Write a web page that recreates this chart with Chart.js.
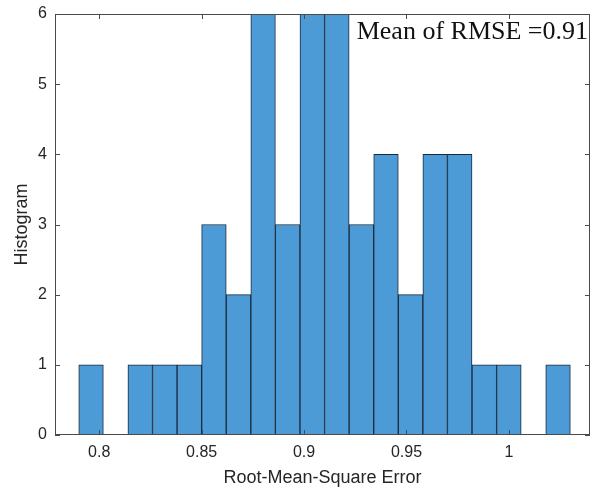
<!DOCTYPE html>
<html>
<head>
<meta charset="utf-8">
<script src="https://cdn.jsdelivr.net/npm/chart.js@4"></script>
<style>
  html, body { margin: 0; padding: 0; background: #ffffff; }
  #wrap { width: 592px; height: 487px; }
</style>
</head>
<body>
<div id="wrap"><canvas id="chartRmse" width="592" height="487"></canvas></div>
<script>
const binCenters = [0.796, 0.808, 0.820, 0.832, 0.844, 0.856, 0.868, 0.880, 0.892, 0.904,
                    0.916, 0.928, 0.940, 0.952, 0.964, 0.976, 0.988, 1.000, 1.012, 1.024];
const binCounts = [1, 0, 1, 1, 1, 3, 2, 6, 3, 6,
                   6, 3, 4, 2, 4, 4, 1, 1, 0, 1];
const xTickValues = [0.8, 0.85, 0.9, 0.95, 1];
const yTickValues = [0, 1, 2, 3, 4, 5, 6];
const meanLabel = 'Mean of RMSE =0.91';

const axisColor = '#4a4a4a';
const barColor = '#4d9bd6';

// Cadre + graduations vers l'intérieur (style MATLAB) + texte de la moyenne
const matlabBox = {
    id: 'matlabBox',
    afterDraw(chart) {
        const { ctx, chartArea: a, scales } = chart;
        const len = 5;
        ctx.save();
        ctx.strokeStyle = axisColor;
        ctx.lineWidth = 1;
        ctx.strokeRect(a.left + 0.5, a.top + 0.5, a.right - a.left - 1, a.bottom - a.top - 1);
        ctx.beginPath();
        xTickValues.forEach(v => {
            const x = Math.round(scales.x.getPixelForValue(v)) + 0.5;
            ctx.moveTo(x, a.bottom); ctx.lineTo(x, a.bottom - len);
            ctx.moveTo(x, a.top); ctx.lineTo(x, a.top + len);
        });
        yTickValues.forEach(v => {
            const y = Math.round(scales.y.getPixelForValue(v)) + 0.5;
            ctx.moveTo(a.left, y); ctx.lineTo(a.left + len, y);
            ctx.moveTo(a.right, y); ctx.lineTo(a.right - len, y);
        });
        ctx.stroke();

        ctx.fillStyle = '#111111';
        ctx.font = '26px "Liberation Serif"';
        ctx.textAlign = 'right';
        ctx.textBaseline = 'alphabetic';
        ctx.fillText(meanLabel, a.right - 2, a.top + 25);
        ctx.restore();
    }
};

const canvas = document.getElementById('chartRmse');

new Chart(canvas, {
    type: 'bar',
    data: {
        datasets: [{
            label: 'RMSE',
            data: binCenters.map((c, i) => ({ x: c, y: binCounts[i] })),
            backgroundColor: barColor,
            borderColor: '#1a2a3a',
            borderWidth: 1,
            barPercentage: 1,
            categoryPercentage: 1
        }]
    },
    options: {
        responsive: false,
        animation: false,
        layout: { padding: { top: 14, right: 2, left: 0, bottom: 0 } },
        plugins: {
            legend: { display: false },
            tooltip: { enabled: false }
        },
        scales: {
            x: {
                type: 'linear',
                offset: false,
                min: 0.7784,
                max: 1.0396,
                grid: { display: false, drawTicks: false, offset: false },
                border: { display: false },
                afterBuildTicks: axis => { axis.ticks = xTickValues.map(v => ({ value: v })); },
                afterFit: axis => {
                    axis.height = 52;
                    axis.paddingLeft = 0;
                    axis.paddingRight = 0;
                },
                ticks: {
                    padding: 8,
                    color: '#262626',
                    font: { family: 'Liberation Sans', size: 16 },
                    callback: v => String(v)
                },
                title: {
                    display: true,
                    text: 'Root-Mean-Square Error',
                    color: '#262626',
                    font: { family: 'Liberation Sans', size: 18, lineHeight: 1 },
                    padding: { top: 0, bottom: 0 }
                }
            },
            y: {
                min: 0,
                max: 6,
                grid: { display: false, drawTicks: false },
                border: { display: false },
                afterBuildTicks: axis => { axis.ticks = yTickValues.map(v => ({ value: v })); },
                afterFit: axis => {
                    axis.width = 55;
                    axis.paddingTop = 0;
                    axis.paddingBottom = 0;
                },
                ticks: {
                    padding: 8,
                    color: '#262626',
                    font: { family: 'Liberation Sans', size: 16 }
                },
                title: {
                    display: true,
                    text: 'Histogram',
                    color: '#262626',
                    font: { family: 'Liberation Sans', size: 18, lineHeight: 1 },
                    padding: { top: 13, bottom: 0 }
                }
            }
        }
    },
    plugins: [matlabBox]
});
</script>
</body>
</html>
